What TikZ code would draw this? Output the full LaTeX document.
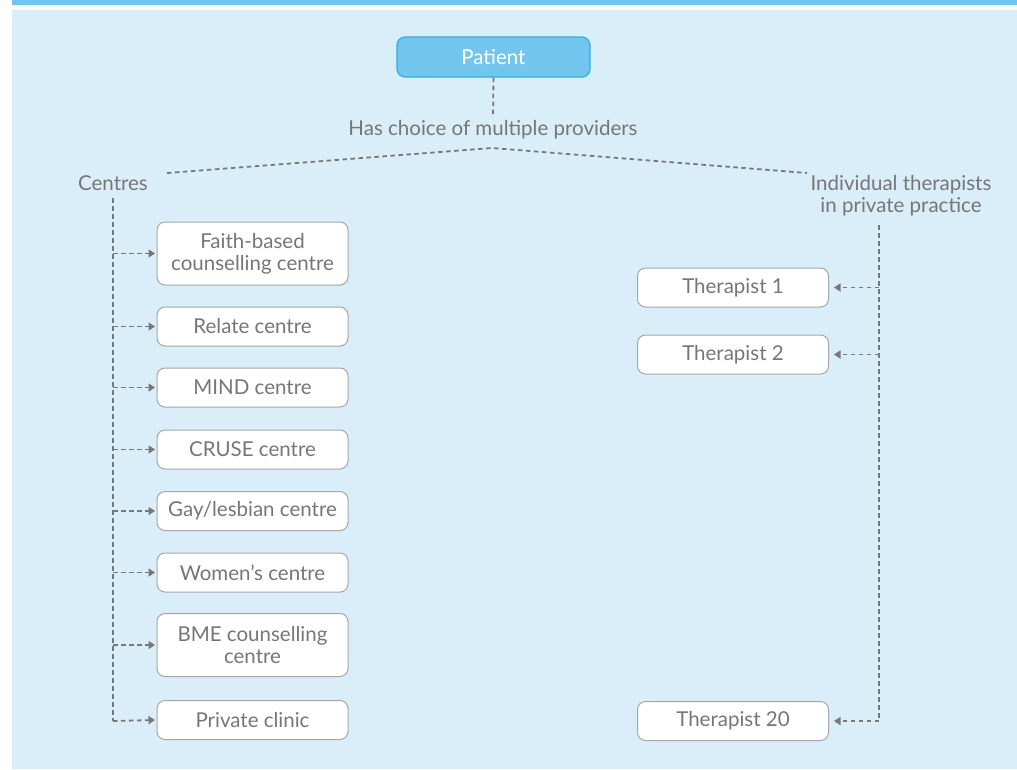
\documentclass[tikz,border=0pt]{standalone}
\usepackage{fontspec}
\setmainfont{Lato}
\usetikzlibrary{arrows.meta}
\definecolor{barblue}{HTML}{72C6EE}
\definecolor{bgblue}{HTML}{DAEEF9}
\definecolor{patborder}{HTML}{2BB0E3}
\definecolor{txtgray}{HTML}{767676}
\definecolor{boxgray}{HTML}{A6A6A6}
\definecolor{dashgray}{HTML}{787878}
\tikzset{
  lbl/.style={text=txtgray, font=\fontsize{20.5}{22}\selectfont, inner sep=0pt, align=center},
  provbox/.style={draw=boxgray, line width=1pt, fill=white, rounded corners=8pt,
    minimum width=191pt, text=txtgray, font=\fontsize{20.5}{22}\selectfont, align=center, inner sep=0pt},
  patbox/.style={draw=patborder, line width=1.2pt, fill=barblue, rounded corners=8pt,
    minimum width=193pt, minimum height=40pt, text=white, font=\fontsize{20.5}{22}\selectfont, inner sep=0pt},
  dline/.style={draw=dashgray, line width=1.8pt, dash pattern=on 4.5pt off 3.5pt},
  darrow/.style={dline, -{Triangle[length=6.5pt,width=8pt]}},
}
\begin{document}
\begin{tikzpicture}[x=1pt,y=-1pt]
\useasboundingbox (0,0) rectangle (1017,769);
\fill[barblue] (12,0) rectangle (1017,5);
\fill[bgblue] (12,10) rectangle (1017,769);

\node[patbox] (pat) at (493.5,57) {Patient};
\node[lbl, anchor=base] (choice) at (493,135) {Has choice of multiple providers};
\coordinate (apex) at (492,148);
\coordinate (lend) at (167,173);
\coordinate (rend) at (807,173);

\node[lbl, anchor=base] (centres) at (113,190) {Centres};
\node[lbl, anchor=base] (indiv) at (901,212) {Individual therapists\\in private practice};

\node[provbox, minimum height=63pt] (b1) at (252.5,253.5) {Faith-based\\counselling centre};
\node[provbox, minimum height=39pt] (b2) at (252.5,326.5) {Relate centre};
\node[provbox, minimum height=39pt] (b3) at (252.5,387.5) {MIND centre};
\node[provbox, minimum height=39pt] (b4) at (252.5,449.5) {CRUSE centre};
\node[provbox, minimum height=39pt] (b5) at (252.5,511) {Gay/lesbian centre};
\node[provbox, minimum height=39pt] (b6) at (252.5,572.5) {Women’s centre};
\node[provbox, minimum height=63pt] (b7) at (252.5,645) {BME counselling\\centre};
\node[provbox, minimum height=39pt] (b8) at (252.5,720) {Private clinic};

\node[provbox, minimum height=39pt] (t1) at (733,287.5) {Therapist 1};
\node[provbox, minimum height=39pt] (t2) at (733,354.5) {Therapist 2};
\node[provbox, minimum height=39pt] (t20) at (733,721) {Therapist 20};

\coordinate (lv) at (113,198);
\coordinate (lvb) at (113,721);
\coordinate (rv) at (879,225);
\coordinate (rvb) at (879,721);

\draw[dline] (pat.south) -- ([yshift=2pt]choice.north);
\draw[dline] (lend) -- (apex) -- (rend);
\draw[dline] (lv) -- (lvb);
\draw[dline] (rv) -- (rvb);
\foreach \b in {b1,b2,b3,b4,b5,b6,b7}
  \draw[darrow] (lv |- \b.west) -- ([xshift=-1.5pt]\b.west);
\draw[darrow] (lvb) -- ([xshift=-1.5pt]b8.west);
\foreach \t in {t1,t2}
  \draw[darrow] (rv |- \t.east) -- ([xshift=5pt]\t.east);
\draw[darrow] (rvb) -- ([xshift=5pt]t20.east);
\end{tikzpicture}
\end{document}
